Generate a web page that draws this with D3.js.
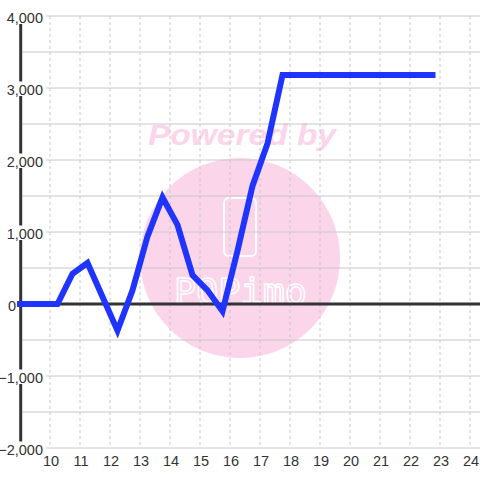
<!DOCTYPE html>
<html>
<head>
<meta charset="utf-8">
<script src="https://cdn.jsdelivr.net/npm/d3@7"></script>
<style>
  body { margin: 0; background: #fff; }
  svg { display: block; font-family: "Liberation Sans", Arial, sans-serif; }
</style>
</head>
<body>
<svg id="chart" width="480" height="480"></svg>
<script>
// data (x in hours, y in value)
const hours = [9, 10.25, 10.75, 11.25, 11.75, 12.25, 12.75, 13.25, 13.75, 14.25, 14.75, 15.25, 15.75, 16.25, 16.75, 17.25, 17.75, 22.75];
const values = [0, 0, 420, 570, 100, -370, 190, 940, 1480, 1100, 400, 190, -100, 740, 1640, 2230, 3180, 3180];
const xTicks = [10, 11, 12, 13, 14, 15, 16, 17, 18, 19, 20, 21, 22, 23, 24];
const yTicks = [-2000, -1000, 0, 1000, 2000, 3000, 4000];
const yGrid = d3.range(-2000, 4001, 500);

const svg = d3.select("#chart");
const width = +svg.attr("width");

const xScale = d3.scaleLinear().domain([9, 24.333]).range([20, width]);
const yScale = d3.scaleLinear().domain([-2000, 4000]).range([448, 16]);

// watermark behind everything
const wm = svg.append("g");
wm.append("circle")
  .attr("cx", 240).attr("cy", 258).attr("r", 100)
  .attr("fill", "#fbd5ea");
wm.append("text")
  .attr("x", 148).attr("y", 145)
  .attr("textLength", 188)
  .attr("lengthAdjust", "spacingAndGlyphs")
  .style("font-size", "29px")
  .style("font-weight", "bold")
  .style("font-style", "italic")
  .attr("fill", "#fbd5ea")
  .text("Powered by");
wm.append("rect")
  .attr("x", 224).attr("y", 198).attr("width", 32).attr("height", 58).attr("rx", 5)
  .attr("fill", "none").attr("stroke", "#fff").attr("stroke-width", 2);
wm.append("text")
  .attr("x", 174).attr("y", 304)
  .attr("textLength", 133)
  .attr("lengthAdjust", "spacingAndGlyphs")
  .style("font-family", "'DejaVu Sans Mono', monospace")
  .style("font-size", "36px")
  .attr("fill", "none").attr("stroke", "#fff").attr("stroke-width", 1.5)
  .text("POPimo");

// grid
svg.append("g").selectAll("line").data(yGrid).join("line")
  .attr("x1", 20).attr("x2", width)
  .attr("y1", d => yScale(d)).attr("y2", d => yScale(d))
  .attr("stroke", "#c8c8c8").attr("stroke-width", 1);
svg.append("g").selectAll("line").data(xTicks).join("line")
  .attr("x1", d => xScale(d)).attr("x2", d => xScale(d))
  .attr("y1", yScale(4000)).attr("y2", yScale(-2000))
  .attr("stroke", "#c8c8c8").attr("stroke-width", 1)
  .attr("stroke-dasharray", "3,3");

// axis lines
svg.append("line")
  .attr("x1", 20.7).attr("x2", 20.7)
  .attr("y1", yScale(4000)).attr("y2", yScale(-2000))
  .attr("stroke", "#333").attr("stroke-width", 3);
svg.append("line")
  .attr("x1", 20).attr("x2", width)
  .attr("y1", yScale(0)).attr("y2", yScale(0))
  .attr("stroke", "#333").attr("stroke-width", 3);

// y labels with white boxes that hide the axis underneath (the 0 label sits left of the axis)
const fmt = d3.format(",");
const yLab = svg.append("g").selectAll("g").data(yTicks).join("g")
  .attr("transform", d => `translate(${d === 0 ? 16 : 43},${yScale(d)})`);
yLab.filter(d => d !== 0).append("rect")
  .attr("x", -40).attr("y", -6.5).attr("width", 43).attr("height", 14.5)
  .attr("fill", "#fff");
yLab.append("text")
  .attr("text-anchor", "end")
  .attr("y", 6.5)
  .style("font-size", "14.5px")
  .attr("fill", "#333")
  .text(d => fmt(d));

// x labels
svg.append("g").selectAll("text").data(xTicks).join("text")
  .attr("x", d => xScale(d) + 1)
  .attr("y", 466)
  .attr("text-anchor", "middle")
  .style("font-size", "14.5px")
  .attr("fill", "#333")
  .text(d => d);

// series
const line = d3.line()
  .x((d, i) => xScale(hours[i]))
  .y(d => yScale(d));
svg.append("path")
  .datum(values)
  .attr("d", line)
  .attr("fill", "none")
  .attr("stroke", "#1f35ff")
  .attr("stroke-width", 6)
  .attr("stroke-linecap", "square")
  .attr("stroke-linejoin", "miter");
</script>
</body>
</html>
